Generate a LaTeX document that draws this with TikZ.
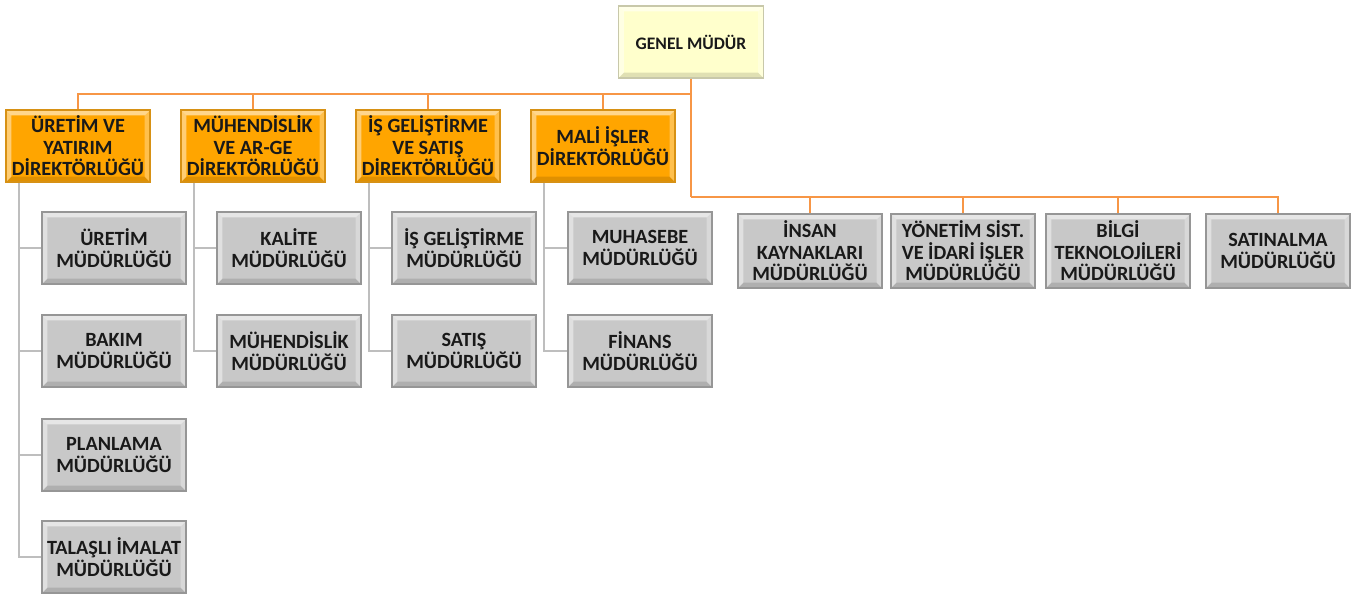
\documentclass[tikz,border=0pt]{standalone}
\usepackage{fontspec}
\setmainfont{Carlito}
\definecolor{lineorange}{RGB}{247,150,70}
\definecolor{linegray}{RGB}{190,190,190}
\definecolor{dirfill}{RGB}{255,165,0}
\definecolor{dirdraw}{RGB}{215,145,20}
\definecolor{mudfill}{RGB}{200,200,200}
\definecolor{muddraw}{RGB}{150,150,150}
\definecolor{gmfill}{RGB}{255,255,204}
\definecolor{gmdraw}{RGB}{200,200,170}

\begin{document}
\begin{tikzpicture}[x=0.02cm,y=-0.02cm,
  bevel/.style={path picture={
    \fill[white,opacity=0.55] (path picture bounding box.north west) -- (path picture bounding box.north east)
      -- ([xshift=-3pt,yshift=-3pt]path picture bounding box.north east) -- ([xshift=3pt,yshift=-3pt]path picture bounding box.north west) -- cycle;
    \fill[white,opacity=0.45] (path picture bounding box.north west) -- ([xshift=3pt,yshift=-3pt]path picture bounding box.north west)
      -- ([xshift=3pt,yshift=3pt]path picture bounding box.south west) -- (path picture bounding box.south west) -- cycle;
    \fill[white,opacity=0.3] (path picture bounding box.north east) -- ([xshift=-3pt,yshift=-3pt]path picture bounding box.north east)
      -- ([xshift=-3pt,yshift=3pt]path picture bounding box.south east) -- (path picture bounding box.south east) -- cycle;
    \fill[black,opacity=0.12] (path picture bounding box.south west) -- (path picture bounding box.south east)
      -- ([xshift=-3pt,yshift=3pt]path picture bounding box.south east) -- ([xshift=3pt,yshift=3pt]path picture bounding box.south west) -- cycle;
  }},
  box/.style={bevel, draw, line width=0.8pt, align=center, inner sep=0pt,
    minimum width=2.88cm, minimum height=1.44cm, text=black!90,
    font=\bfseries\fontsize{11.5}{12.2}\selectfont},
  gm/.style={box, fill=gmfill, draw=gmdraw, minimum width=2.9cm,
    font=\bfseries\fontsize{10}{12}\selectfont},
  dir/.style={box, fill=dirfill, draw=dirdraw},
  mud/.style={box, fill=mudfill, draw=muddraw},
  orangeline/.style={draw=lineorange, line width=1.1pt},
  grayline/.style={draw=linegray, line width=1.1pt}]
\useasboundingbox (0,0) rectangle (1367,593);

% genel mudur
\node[gm] (gm) at (691,42) {GENEL MÜDÜR};

% direktorlukler
\node[dir] (d1) at (78,146) {ÜRETİM VE\\YATIRIM\\DİREKTÖRLÜĞÜ};
\node[dir] (d2) at (253,146) {MÜHENDİSLİK\\VE AR-GE\\DİREKTÖRLÜĞÜ};
\node[dir] (d3) at (428,146) {İŞ GELİŞTİRME\\VE SATIŞ\\DİREKTÖRLÜĞÜ};
\node[dir] (d4) at (603,146) {MALİ İŞLER\\DİREKTÖRLÜĞÜ};

% mudurlukler
\node[mud] (m11) at (114,248) {ÜRETİM\\MÜDÜRLÜĞÜ};
\node[mud] (m12) at (114,351) {BAKIM\\MÜDÜRLÜĞÜ};
\node[mud] (m13) at (114,455) {PLANLAMA\\MÜDÜRLÜĞÜ};
\node[mud] (m14) at (114,557) {TALAŞLI İMALAT\\MÜDÜRLÜĞÜ};
\node[mud] (m21) at (289,248) {KALİTE\\MÜDÜRLÜĞÜ};
\node[mud] (m22) at (289,351) {MÜHENDİSLİK\\MÜDÜRLÜĞÜ};
\node[mud] (m31) at (464,248) {İŞ GELİŞTİRME\\MÜDÜRLÜĞÜ};
\node[mud] (m32) at (464,351) {SATIŞ\\MÜDÜRLÜĞÜ};
\node[mud] (m41) at (640,248) {MUHASEBE\\MÜDÜRLÜĞÜ};
\node[mud] (m42) at (640,351) {FİNANS\\MÜDÜRLÜĞÜ};

% genel mudure bagli
\node[mud, minimum height=1.48cm] (r1) at (810,251) {İNSAN\\KAYNAKLARI\\MÜDÜRLÜĞÜ};
\node[mud, minimum height=1.48cm] (r2) at (963,251) {YÖNETİM SİST.\\VE İDARİ İŞLER\\MÜDÜRLÜĞÜ};
\node[mud, minimum height=1.48cm] (r3) at (1118,251) {BİLGİ\\TEKNOLOJİLERİ\\MÜDÜRLÜĞÜ};
\node[mud, minimum height=1.48cm] (r4) at (1278,251) {SATINALMA\\MÜDÜRLÜĞÜ};

\coordinate (bus1) at (691,94);
\coordinate (bus2) at (691,197);

\path[orangeline]
(gm.south) -- (bus2)
(bus1) -| (d1.north)
(bus1) -| (d2.north)
(bus1) -| (d3.north)
(bus1) -| (d4.north)
(bus2) -| (r1.north)
(bus2) -| (r2.north)
(bus2) -| (r3.north)
(bus2) -| (r4.north)
;
\path[grayline]
(d1.south west) ++(14,0) |- (m11.west)
(d1.south west) ++(14,0) |- (m12.west)
(d1.south west) ++(14,0) |- (m13.west)
(d1.south west) ++(14,0) |- (m14.west)
(d2.south west) ++(14,0) |- (m21.west)
(d2.south west) ++(14,0) |- (m22.west)
(d3.south west) ++(14,0) |- (m31.west)
(d3.south west) ++(14,0) |- (m32.west)
(d4.south west) ++(14,0) |- (m41.west)
(d4.south west) ++(14,0) |- (m42.west)
;
\end{tikzpicture}
\end{document}
